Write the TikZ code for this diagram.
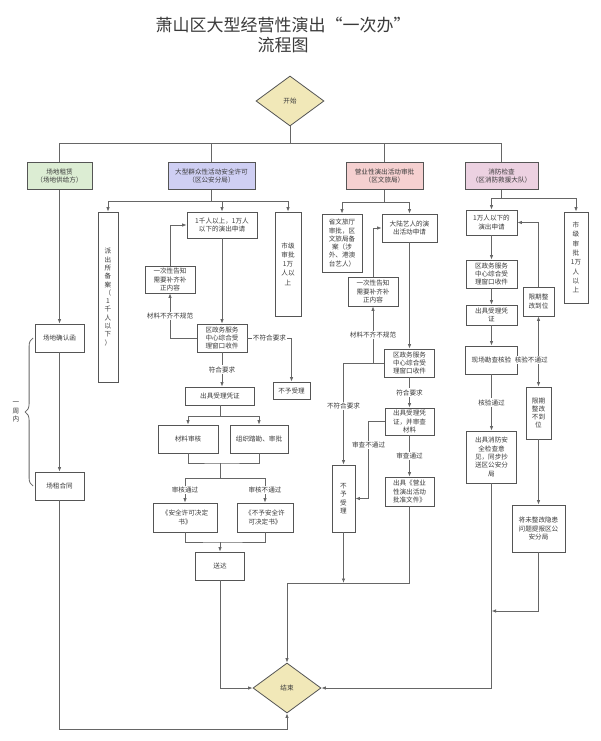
\documentclass[tikz,border=0pt]{standalone}
\usepackage{fontspec}
\setmainfont{Noto Sans CJK SC}
\usetikzlibrary{arrows.meta,shapes.geometric,decorations.pathreplacing}
\definecolor{rentgreen}{HTML}{DCEDD3}
\definecolor{policeblue}{HTML}{CFCFF3}
\definecolor{culturepink}{HTML}{F5D0D0}
\definecolor{firelilac}{HTML}{ECD1E1}
\definecolor{gateyellow}{HTML}{F1E8B8}
\definecolor{edgegrey}{HTML}{555555}
\definecolor{wiregrey}{HTML}{666666}
\definecolor{inkc}{HTML}{3A3A3A}
\newcommand{\boxfont}{\fontsize{6.6pt}{8.3pt}\selectfont}
\newcommand{\vfont}{\fontsize{6.6pt}{9.3pt}\selectfont}
\newcommand{\titlefont}{\fontsize{17pt}{20pt}\selectfont}

\begin{document}
\begin{tikzpicture}[x=1pt, y=-1pt,
        stage/.style={draw=edgegrey, fill=white, align=center, font=\boxfont, text=inkc, inner sep=1pt, line width=0.8pt},
        head/.style={stage, minimum height=27},
        gate/.style={diamond, draw=edgegrey, fill=gateyellow, minimum width=68, minimum height=50, inner sep=0pt, font=\boxfont, text=inkc, line width=0.8pt},
        wire/.style={draw=wiregrey, line width=0.8pt},
        msg/.style={wire, -{Latex[length=4.5pt, width=3.5pt]}},
        lbl/.style={font=\boxfont, fill=white, text=inkc, inner sep=1pt, align=center}]
      \fill[white] (0,0) rectangle (600,741);
      \node[font=\titlefont, text=inkc, align=center] (title) at (283,35) {萧山区大型经营性演出“一次办”\\流程图};
      \node[gate] (start) at (290,101) {开始};
      \node[gate] (finish) at (287,688) {结束};
      \foreach \x/\w/\name/\shade/\txt in {59.5/65/rent/rentgreen/场地租赁\\（场地供给方）, 211.5/87/police/policeblue/大型群众性活动安全许可\\（区公安分局）, 384.5/77/culture/culturepink/营业性演出活动审批\\（区文旅局）, 501.5/73/fire/firelilac/消防检查\\（区消防救援大队）}{
        \node[head, fill=\shade, minimum width=\w] (\name) at (\x,176) {\txt};
      }
      \coordinate (split) at (290,143);
      \draw[wire] (start.south) -- (split);
      \draw[wire] (split) -| (rent.north);
      \draw[wire] (split) -| (fire.north);
      \draw[wire] (split -| police.north) -- (police.north);
      \draw[wire] (split -| culture.north) -- (culture.north);
      % venue
      \node[stage, minimum width=49, minimum height=28] (confirm) at (59.5,338) {场地确认函};
      \node[stage, minimum width=49, minimum height=28] (lease) at (59.5,486) {场租合同};
      \draw[msg] (rent.south) -- (confirm.north);
      \draw[msg] (confirm.south) -- (lease.north);
      \draw[msg] (lease.south) -- ++(0,229) -| (finish.south);
      \draw[wire, decorate, decoration={brace, amplitude=8pt}] ([xshift=-1.5pt]lease.west) -- ([xshift=-1.5pt]confirm.west);
      \node[lbl, fill=none] (week) at (16,412) {一\\周\\内};
      % police
      \node[stage, minimum width=20, minimum height=170] (pBeian) at (108,297) {派\\出\\所\\备\\案\\（\\1\\千\\人\\以\\下\\）};
      \node[stage, minimum width=70, minimum height=26] (pApply) at (222,225) {1千人以上，1万人\\以下的演出申请};
      \node[stage, font=\vfont, minimum width=26, minimum height=104] (pCity) at (288,264) {市级\\审批\\1万\\人以\\上};
      \node[stage, minimum width=50, minimum height=27] (pNotice) at (170,279.5) {一次性告知\\需要补齐补\\正内容};
      \node[stage, minimum width=50, minimum height=28] (pWindow) at (222,338) {区政务服务\\中心综合受\\理窗口收件};
      \node[stage, minimum width=37, minimum height=17] (pReject) at (291.5,390.5) {不予受理};
      \node[stage, minimum width=69, minimum height=18] (pReceipt) at (220,396) {出具受理凭证};
      \node[stage, minimum width=60, minimum height=28] (pReview) at (188,439) {材料审核};
      \node[stage, minimum width=58, minimum height=28] (pSurvey) at (259,439) {组织踏勘、审批};
      \node[stage, minimum width=64, minimum height=29] (pPermit) at (185,517.5) {《安全许可决定\\书》};
      \node[stage, minimum width=56, minimum height=29] (pDeny) at (265,517.5) {《不予安全许\\可决定书》};
      \node[stage, minimum width=49, minimum height=28] (pDeliver) at (220,566) {送达};
      \coordinate (pSplit) at (211.5,201);
      \draw[wire] (police.south) -- (pSplit);
      \draw[msg] (pSplit) -| (pBeian.north);
      \draw[msg] (pSplit) -| (pCity.north);
      \draw[msg] (pSplit -| pApply.north) -- (pApply.north);
      \draw[msg] (pApply.south) -- (pWindow.north);
      \draw[msg] (pWindow.west) -| node[lbl, pos=0.75] {材料不齐不规范} (pNotice.south);
      \draw[msg] (pNotice.north) |- (pApply.west);
      \draw[msg] (pWindow.east) -| node[lbl, pos=0.25] {不符合要求} (pReject.north);
      \draw[msg] (pWindow.south) -- node[lbl] {符合要求} (pWindow.south |- pReceipt.north);
      \coordinate (pFork) at (220,416);
      \draw[wire] (pReceipt.south) -- (pFork);
      \draw[msg] (pFork) -| (pReview.north);
      \draw[msg] (pFork) -| (pSurvey.north);
      \coordinate (pMeet) at (220,463);
      \coordinate (pFork2) at (220,478);
      \draw[wire] (pReview.south) |- (pMeet) -| (pSurvey.south);
      \draw[wire] (pMeet) -- (pFork2);
      \draw[msg] (pFork2) -| node[lbl, pos=0.75] {审核通过} (pPermit.north);
      \draw[msg] (pFork2) -| node[lbl, pos=0.75] {审核不通过} (pDeny.north);
      \coordinate (pMeet2) at (220,542);
      \draw[wire] (pPermit.south) |- (pMeet2) -| (pDeny.south);
      \draw[msg] (pMeet2) -- (pDeliver.north);
      \draw[msg] (pDeliver.south) |- (finish.west);
      % culture
      \node[stage, minimum width=40, minimum height=58] (cProv) at (342,243) {省文旅厅\\审批，区\\文旅局备\\案（涉\\外、港澳\\台艺人）};
      \node[stage, minimum width=55, minimum height=28] (cApply) at (409.5,228) {大陆艺人的演\\出活动申请};
      \node[stage, minimum width=50, minimum height=29] (cNotice) at (373,291.5) {一次性告知\\需要补齐补\\正内容};
      \node[stage, minimum width=50, minimum height=28] (cWindow) at (409.5,363) {区政务服务\\中心综合受\\理窗口收件};
      \node[stage, minimum width=49, minimum height=27] (cReceipt) at (409.5,421.5) {出具受理凭\\证，并审查\\材料};
      \node[stage, minimum width=23, minimum height=67] (cReject) at (343.5,498.5) {不\\予\\受\\理};
      \node[stage, minimum width=49, minimum height=29] (cDecision) at (409.5,491.5) {出具《营业\\性演出活动\\批准文件》};
      \coordinate (cSplit) at (384.5,202);
      \draw[wire] (culture.south) -- (cSplit);
      \draw[msg] (cSplit) -| (cProv.north);
      \draw[msg] (cSplit) -| (cApply.north);
      \draw[msg] (cApply.south) -- (cWindow.north);
      \draw[msg] (cWindow.west) -| node[lbl, pos=0.71] {不符合要求} (cReject.north);
      \draw[msg] (cWindow.west -| cNotice.south) -- node[lbl] {材料不齐不规范} (cNotice.south);
      \draw[msg] (cNotice.north) |- (cApply.west);
      \draw[msg] (cWindow.south) -- node[lbl] {符合要求} (cReceipt.north);
      \draw[msg] (cReceipt.west) -- ++(-16,0) |- node[lbl, pos=0.15] {审查不通过} (cReject.east);
      \draw[msg] (cReceipt.south) -- node[lbl] {审查通过} (cDecision.north);
      \coordinate (cMerge) at (343.5,583);
      \draw[msg] (cReject.south) -- (cMerge);
      \draw[wire] (cDecision.south) |- (cMerge);
      \draw[msg] (cMerge) -| (finish.north);
      % fire
      \node[stage, minimum width=51, minimum height=25] (fApply) at (491.5,222.5) {1万人以下的\\演出申请};
      \node[stage, font=\vfont, minimum width=24, minimum height=91] (fCity) at (576,257.5) {市\\级\\审\\批\\1万\\人\\以\\上};
      \node[stage, minimum width=51, minimum height=28] (fWindow) at (491.5,274) {区政务服务\\中心综合受\\理窗口收件};
      \node[stage, minimum width=51, minimum height=20] (fReceipt) at (491.5,315) {出具受理凭\\证};
      \node[stage, minimum width=52, minimum height=28] (fCheck) at (491.5,360) {现场勘查核验};
      \node[stage, minimum width=31, minimum height=29] (fFixed) at (538.5,301.5) {限期整\\改到位};
      \node[stage, minimum width=25, minimum height=52] (fUnfixed) at (538.5,413) {限期\\整改\\不到\\位};
      \node[stage, minimum width=53, minimum height=47] (fReport) at (538.5,528.5) {将未整改隐患\\问题提报区公\\安分局};
      \node[stage, minimum width=50, minimum height=52] (fOpinion) at (491.5,457) {出具消防安\\全检查意\\见，同步抄\\送区公安分\\局};
      \coordinate (fSplit) at (501.5,198);
      \draw[wire] (fire.south) -- (fSplit);
      \draw[msg] (fSplit) -| (fApply.north);
      \draw[msg] (fSplit) -| (fCity.north);
      \draw[msg] (fApply.south) -- (fWindow.north);
      \draw[msg] (fWindow.south) -- (fReceipt.north);
      \draw[msg] (fReceipt.south) -- (fCheck.north);
      \coordinate (fFork) at (538.5,360);
      \draw[msg] (fFork) -- (fFixed.south);
      \draw[msg] (fFork) -- (fUnfixed.north);
      \draw[wire] (fCheck.east) -- node[lbl, pos=0.65] {核验不通过} (fFork);
      \draw[msg] (fFixed.north) |- (fApply.east);
      \draw[msg] (fUnfixed.south) -- (fReport.north);
      \draw[msg] (fCheck.south) -- node[lbl] {核验通过} (fOpinion.north);
      \draw[msg] (fOpinion.south) |- (finish.east);
      \coordinate (fMerge) at (491.5,611);
      \draw[msg] (fReport.south) |- (fMerge);
    \end{tikzpicture}
\end{document}
